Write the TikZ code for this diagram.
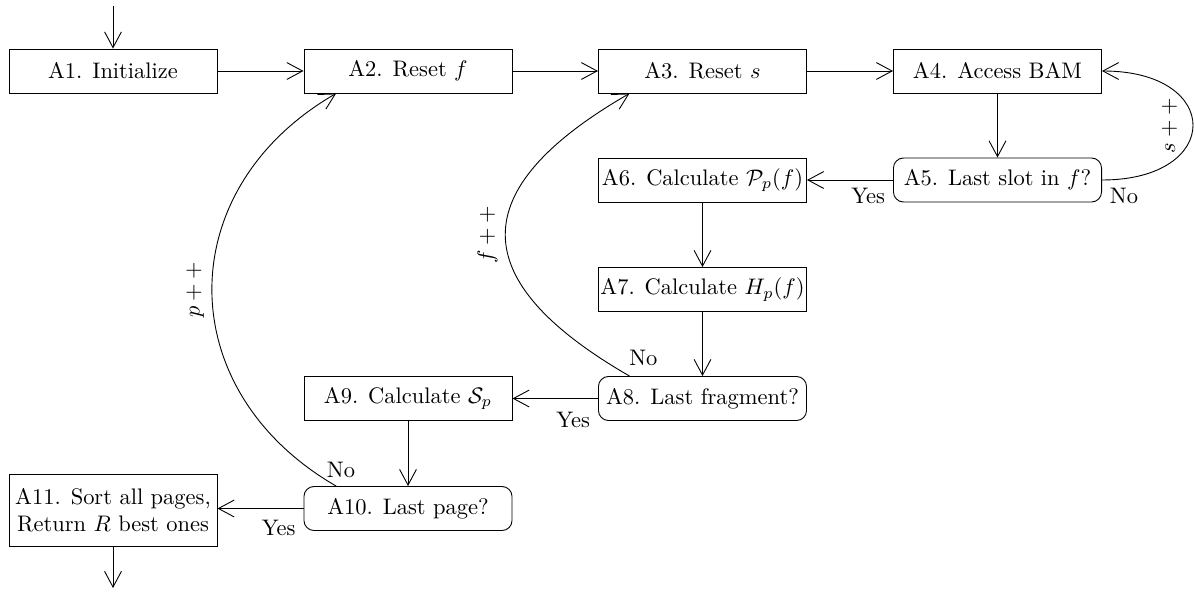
\documentclass[tikz,border=0pt]{standalone}
\usetikzlibrary{arrows.meta,calc}
\begin{document}
\begin{tikzpicture}[x=0.445pt,y=0.445pt,
  blk/.style={draw, minimum width=92.6pt, minimum height=19.6pt, inner xsep=1pt, inner ysep=3.33pt},
  dec/.style={blk, rounded corners=4.5pt},
  flow/.style={-{Straight Barb[length=7pt,width=7.5pt]}},
  lbl/.style={inner sep=3.33pt}]
\useasboundingbox (0,0) rectangle (1195,-592);

% process steps
\node[blk] (A1) at (113,-71) {A1. Initialize};
\node[blk] (A2) at (408,-71) {A2. Reset $f$};
\node[blk] (A3) at (702.5,-71) {A3. Reset $s$};
\node[blk] (A4) at (997.5,-71) {A4. Access BAM};
\node[dec] (A5) at (997.5,-180) {A5. Last slot in $f$?};
\node[blk] (A6) at (702.5,-180) {A6. Calculate $\mathcal{P}_p(f)$};
\node[blk] (A7) at (702.5,-289.5) {A7. Calculate $H_p(f)$};
\node[dec] (A8) at (702.5,-398.5) {A8. Last fragment?};
\node[blk] (A9) at (408,-398.5) {A9. Calculate $\mathcal{S}_p$};
\node[dec] (A10) at (408,-508.5) {A10. Last page?};
\node[blk, align=center, minimum height=32pt] (A11) at (113,-510)
  {A11. Sort all pages,\\Return $R$ best ones};

\coordinate (entrypt) at (113,-6);
\coordinate (exitpt) at (113,-588);

% straight connectors
\draw[flow] (entrypt) -- (A1);
\draw[flow] (A1) -- (A2);
\draw[flow] (A2) -- (A3);
\draw[flow] (A3) -- (A4);
\draw[flow] (A4) -- (A5);
\draw[flow] (A5) -- node[lbl, pos=0, below left] {Yes} (A6);
\draw[flow] (A6) -- (A7);
\draw[flow] (A7) -- (A8);
\draw[flow] (A8) -- node[lbl, pos=0, below left, yshift=-2.5pt] {Yes} (A9);
\draw[flow] (A9) -- (A10);
\draw[flow] (A10.west) -- node[lbl, pos=0, below left, yshift=-1.5pt] {Yes} (A10.west -| A11.east);
\draw[flow] (A11) -- (exitpt);

% loop-back connectors
\draw[flow] (A5.east) .. controls +(0:53.9pt) and +(0:53.9pt) ..
  node[lbl, pos=0, below right] {No}
  node[lbl, midway, sloped, above=3.5pt] {$s++$} (A4.east);
\draw[flow] ([xshift=14pt]A8.north west) .. controls +(150:85pt) and +(210:85pt) ..
  node[lbl, pos=0, above, xshift=6.2pt, yshift=1pt] {No}
  node[lbl, midway, sloped, above] {$f++$} ([xshift=14pt]A3.south west);
\draw[flow] ([xshift=14.5pt]A10.north west) .. controls +(150:85pt) and +(210:85pt) ..
  node[lbl, pos=0, above, xshift=2.2pt] {No}
  node[lbl, midway, sloped, above] {$p++$} ([xshift=14.5pt]A2.south west);
\end{tikzpicture}
\end{document}
